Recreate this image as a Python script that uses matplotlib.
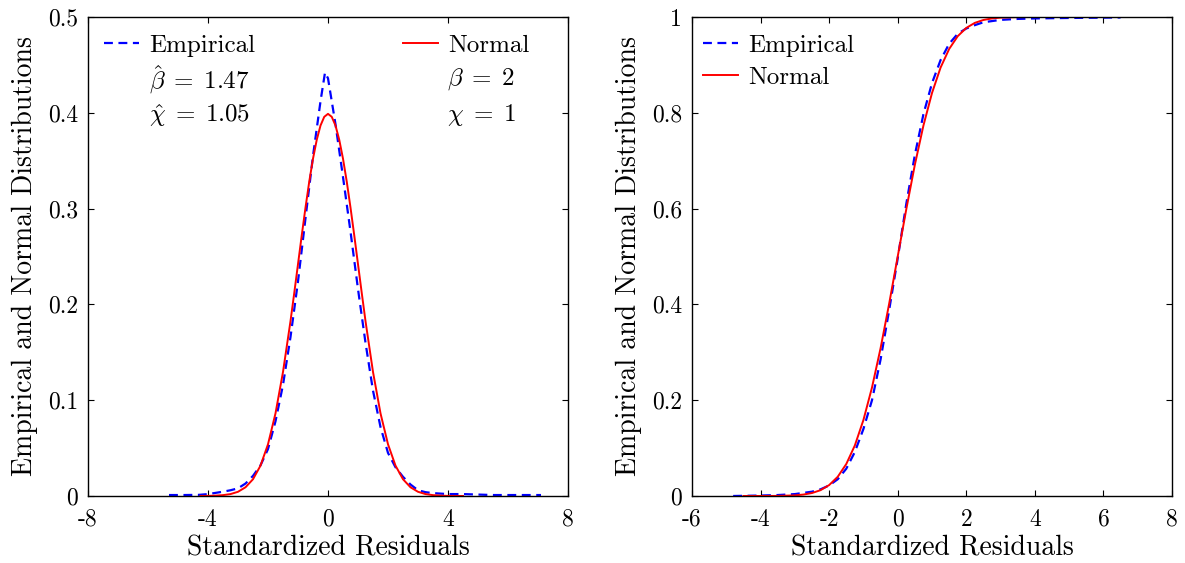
import matplotlib
matplotlib.use("Agg")
import matplotlib.pyplot as plt

plt.rcParams['font.family'] = ['cmr10', 'DejaVu Serif']
plt.rcParams['mathtext.fontset'] = 'cm'
plt.rcParams['axes.unicode_minus'] = False
plt.rcParams['axes.formatter.use_mathtext'] = True

# ---------------- data: density panel ----------------
emp_pdf_x = [-5.3, -4.8, -4.3, -4.0, -3.7, -3.5, -3.25, -3.0, -2.75, -2.5, -2.25, -2.0,
             -1.75, -1.5, -1.25, -1.0, -0.75, -0.5, -0.25, -0.1, 0.0, 0.25, 0.5, 0.75,
             1.0, 1.25, 1.5, 1.75, 2.0, 2.25, 2.5, 2.75, 3.0, 3.25, 3.5, 4.0, 4.5, 5.0,
             5.5, 6.0, 7.1]
emp_pdf_y = [0.001, 0.001, 0.0012, 0.002, 0.0035, 0.0045, 0.006, 0.008, 0.013, 0.021, 0.032, 0.049,
             0.078, 0.116, 0.166, 0.224, 0.290, 0.355, 0.412, 0.442, 0.436, 0.388, 0.333, 0.276,
             0.216, 0.160, 0.110, 0.072, 0.045, 0.030, 0.020, 0.012, 0.006, 0.004, 0.003, 0.002, 0.002, 0.0015,
             0.001, 0.001, 0.001]

norm_pdf_x = [-4.25, -4.0, -3.75, -3.5, -3.25, -3.0, -2.75, -2.5, -2.25, -2.0, -1.75, -1.5,
              -1.25, -1.125, -1.0, -0.875, -0.75, -0.625, -0.5, -0.375, -0.25, -0.125, 0.0,
              0.125, 0.25, 0.375, 0.5, 0.625, 0.75, 0.875, 1.0, 1.125,
              1.25, 1.5, 1.75, 2.0, 2.25, 2.5, 2.75, 3.0, 3.25, 3.5, 3.75, 4.0, 4.25, 4.5]
norm_pdf_y = [0.00005, 0.0001, 0.0004, 0.0009, 0.0020, 0.0044, 0.0091, 0.0175, 0.0317, 0.0540, 0.0863, 0.1295,
              0.1826, 0.2119, 0.2420, 0.2721, 0.3011, 0.3282, 0.3521, 0.3718, 0.3867, 0.3958, 0.3989,
              0.3958, 0.3867, 0.3718, 0.3521, 0.3282, 0.3011, 0.2721, 0.2420, 0.2119,
              0.1826, 0.1295, 0.0863, 0.0540, 0.0317, 0.0175, 0.0091, 0.0044, 0.0020, 0.0009, 0.0004, 0.0001, 0.00005, 0.00002]

# ---------------- data: distribution function panel ----------------
emp_cdf_x = [-4.8, -4.0, -3.5, -3.0, -2.5, -2.25, -2.0, -1.75, -1.5, -1.25, -1.0, -0.75,
             -0.5, -0.25, 0.0, 0.25, 0.5, 0.75, 1.0, 1.25, 1.5, 1.75, 2.0, 2.25, 2.5,
             3.0, 3.5, 4.0, 5.0, 6.5]
emp_cdf_y = [0.000, 0.001, 0.002, 0.004, 0.009, 0.014, 0.022, 0.035, 0.057, 0.092, 0.140, 0.200,
             0.285, 0.388, 0.496, 0.610, 0.712, 0.797, 0.862, 0.910, 0.944, 0.965, 0.976, 0.983, 0.989,
             0.994, 0.996, 0.997, 0.998, 0.999]

norm_cdf_x = [-4.5, -4.0, -3.5, -3.0, -2.75, -2.5, -2.25, -2.0, -1.75, -1.5, -1.25, -1.0,
              -0.75, -0.5, -0.25, 0.0, 0.25, 0.5, 0.75, 1.0, 1.25, 1.5, 1.75, 2.0,
              2.25, 2.5, 2.75, 3.0, 3.5, 4.0, 4.5]
norm_cdf_y = [0.0000, 0.00003, 0.0002, 0.0013, 0.0030, 0.0062, 0.0122, 0.0228, 0.0401, 0.0668, 0.1056, 0.1587,
              0.2266, 0.3085, 0.4013, 0.5000, 0.5987, 0.6915, 0.7734, 0.8413, 0.8944, 0.9332, 0.9599, 0.9772,
              0.9878, 0.9938, 0.9970, 0.9987, 0.9998, 1.0000, 1.0000]

left_xticks = [-8, -4, 0, 4, 8]
left_yticks = [0, 0.1, 0.2, 0.3, 0.4, 0.5]
left_yticklabels = ['0', '0.1', '0.2', '0.3', '0.4', '0.5']
right_xticks = [-6, -4, -2, 0, 2, 4, 6, 8]
right_yticks = [0, 0.2, 0.4, 0.6, 0.8, 1.0]
right_yticklabels = ['0', '0.2', '0.4', '0.6', '0.8', '1']

emp_label = 'Empirical'
norm_label = 'Normal'
xlabel = 'Standardized Residuals'
ylabel = 'Empirical and Normal Distributions'
emp_params = [r'$\hat{\beta}\;=\;1.47$', r'$\hat{\chi}\;=\;1.05$']
norm_params = [r'$\beta\;=\;2$', r'$\chi\;=\;1$']

# ---------------- figure ----------------
W, H = 1185, 563
fig = plt.figure(figsize=(W / 100, H / 100), dpi=100)
ax1 = fig.add_axes([88 / W, (H - 496) / H, 480 / W, 479 / H])
ax2 = fig.add_axes([692 / W, (H - 496) / H, 480 / W, 479 / H])

blue = '#0000ff'
red = '#ff0000'
FS_TICK = 17
FS_LAB = 20
FS_LEG = 18


def style(ax, xt, yt, ytl):
    ax.set_xticks(xt)
    ax.set_xticklabels([str(v) for v in xt])
    ax.set_yticks(yt)
    ax.set_yticklabels(ytl)
    ax.tick_params(direction='in', top=True, right=True, length=4, width=0.8,
                   labelsize=FS_TICK)
    ax.tick_params(axis='x', pad=9)
    ax.tick_params(axis='y', pad=7)
    for s in ax.spines.values():
        s.set_linewidth(1.0)
    ax.set_xlabel(xlabel, fontsize=FS_LAB, labelpad=3)
    ax.set_ylabel(ylabel, fontsize=FS_LAB, labelpad=7)


# left panel
e1, = ax1.plot(emp_pdf_x, emp_pdf_y, color=blue, lw=1.6, dashes=(4, 2.5))
n1, = ax1.plot(norm_pdf_x, norm_pdf_y, color=red, lw=1.4)
ax1.set_xlim(-8, 8)
ax1.set_ylim(0, 0.5)
style(ax1, left_xticks, left_yticks, left_yticklabels)

leg_kw = dict(frameon=False, fontsize=FS_LEG, handlelength=1.4, handletextpad=0.42,
              borderpad=0, borderaxespad=0)
leg_a = ax1.legend([e1], [emp_label], loc='upper left', bbox_to_anchor=(0.033, 0.963), **leg_kw)
ax1.add_artist(leg_a)
ax1.legend([n1], [norm_label], loc='upper left', bbox_to_anchor=(0.656, 0.963), **leg_kw)
for i, yy in enumerate([0.870, 0.795]):
    ax1.text(0.127, yy, emp_params[i], transform=ax1.transAxes, fontsize=FS_LEG, va='center', ha='left')
    ax1.text(0.748, yy, norm_params[i], transform=ax1.transAxes, fontsize=FS_LEG, va='center', ha='left')

# right panel
e2, = ax2.plot(emp_cdf_x, emp_cdf_y, color=blue, lw=1.6, dashes=(4, 2.5))
n2, = ax2.plot(norm_cdf_x, norm_cdf_y, color=red, lw=1.4)
ax2.set_xlim(-6, 8)
ax2.set_ylim(0, 1)
style(ax2, right_xticks, right_yticks, right_yticklabels)
ax2.legend([e2, n2], [emp_label, norm_label], loc='upper left', bbox_to_anchor=(0.022, 0.963),
           labelspacing=0.38, **leg_kw)

fig.savefig('out.png', dpi=100)
